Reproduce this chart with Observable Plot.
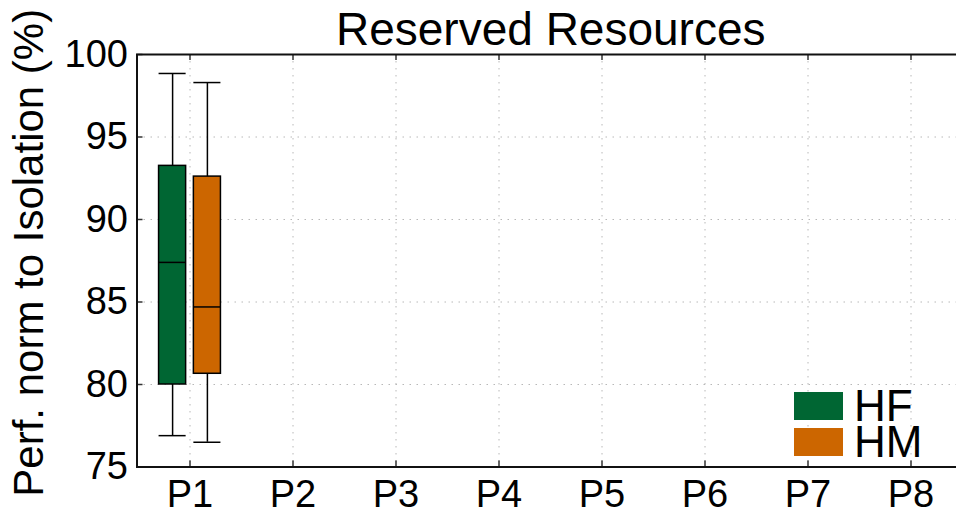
<!DOCTYPE html>
<html>
<head>
<meta charset="utf-8">
<script src="https://cdn.jsdelivr.net/npm/d3@7"></script>
<script src="https://cdn.jsdelivr.net/npm/@observablehq/plot@0.6"></script>
<style>
  body { margin: 0; background: #fff; }
  #chart { position: relative; width: 956px; height: 509px; overflow: hidden;
           font-family: "Liberation Sans", Arial, Helvetica, sans-serif; }
  #chart svg { display: block; }
  .legend { position: absolute; left: 794px; top: 388px; }
  .legend .row { display: flex; align-items: center; height: 36px; }
  .legend .sw { width: 49px; height: 28px; margin-right: 11px; }
  .legend .lab { font-size: 44px; line-height: 36px; color: #000; }
</style>
</head>
<body>
<div id="chart"></div>
<script>
// Programs on the x axis and the two configurations compared
const programs = ["P1", "P2", "P3", "P4", "P5", "P6", "P7", "P8"];
const series = ["HF", "HM"];
const seriesColors = ["#006633", "#cc6600"];

// Box statistics (only P1 has measurements)
const boxProgram = ["P1", "P1"];
const boxSeries = ["HF", "HM"];
const whiskerLow = [76.9, 76.5];
const quartile1 = [80.0, 80.65];
const medianVal = [87.4, 84.7];
const quartile3 = [93.25, 92.6];
const whiskerHigh = [98.85, 98.3];

const yTicks = [75, 80, 85, 90, 95, 100];

const boxes = boxProgram.map((p, i) => ({
  program: p, series: boxSeries[i],
  lo: whiskerLow[i], q1: quartile1[i], med: medianVal[i], q3: quartile3[i], hi: whiskerHigh[i]
}));

// layout
const W = 956, H = 509;
const mL = 136.5, mR = -8, mT = 54, mB = 42.5;
const frameW = W - mL - mR, frameH = H - mT - mB;
const bandW = frameW / programs.length;
const boxW = 27.5, boxGap = 7.3;
const font = "Liberation Sans, Arial, Helvetica, sans-serif";

// per-series box placement inside each program band
const boxMarks = series.flatMap((s, i) => {
  const off = (i - (series.length - 1) / 2) * (boxW + boxGap);
  const insetLeft = bandW / 2 + off - boxW / 2;
  const insetRight = bandW / 2 - off - boxW / 2;
  const d = boxes.filter(b => b.series === s);
  return [
    Plot.ruleX(d, {x: "program", y1: "lo", y2: "hi", dx: off, stroke: "#000", strokeWidth: 1.5}),
    Plot.tickY(d, {x: "program", y: "lo", insetLeft, insetRight, stroke: "#000", strokeWidth: 1.5}),
    Plot.tickY(d, {x: "program", y: "hi", insetLeft, insetRight, stroke: "#000", strokeWidth: 1.5}),
    Plot.barY(d, {x: "program", y1: "q1", y2: "q3", fill: "series", stroke: "#000", strokeWidth: 1.5, insetLeft, insetRight}),
    Plot.tickY(d, {x: "program", y: "med", insetLeft, insetRight, stroke: "#000", strokeWidth: 1.5})
  ];
});

const gridStyle = {stroke: "#b8b8b8", strokeOpacity: 1, strokeWidth: 1, strokeDasharray: "1.5,5.5"};

const chart = Plot.plot({
  width: W, height: H,
  marginLeft: mL, marginRight: mR, marginTop: mT, marginBottom: mB,
  style: {fontFamily: font, background: "#fff", color: "#000"},
  x: {type: "band", domain: programs, padding: 0, label: null},
  y: {domain: [75, 100], label: null},
  color: {domain: series, range: seriesColors},
  marks: [
    Plot.gridY(yTicks.slice(1, -1), gridStyle),
    Plot.gridX(programs, gridStyle),
    ...boxMarks,
    // inward tick marks on the left, bottom and top edges
    Plot.tickY(yTicks, {y: d => d, insetRight: frameW - 6, stroke: "#333", strokeWidth: 1.5}),
    Plot.tickX(programs, {x: d => d, insetTop: frameH - 6, stroke: "#333", strokeWidth: 1.5}),
    Plot.tickX(programs, {x: d => d, insetBottom: frameH - 6, stroke: "#333", strokeWidth: 1.5}),
    Plot.frame({stroke: "#111", strokeWidth: 2}),
    Plot.axisY(yTicks, {tickSize: 0, tickPadding: 9, fontSize: 38, label: null}),
    Plot.axisX({tickSize: 0, tickPadding: 13, fontSize: 38, label: null}),
    Plot.text(["Reserved Resources"], {frameAnchor: "top", lineAnchor: "bottom", dy: -10, fontSize: 46, fill: "#000"}),
    Plot.text(["Perf. norm to Isolation (%)"], {frameAnchor: "left", textAnchor: "middle", rotate: -90, dx: -107, dy: -8, fontSize: 42, fill: "#000"})
  ]
});

const root = document.getElementById("chart");
root.appendChild(chart);

// legend drawn from the color scale
const color = chart.scale("color");
const legend = document.createElement("div");
legend.className = "legend";
color.domain.forEach((s, i) => {
  const row = document.createElement("div");
  row.className = "row";
  const sw = document.createElement("div");
  sw.className = "sw";
  sw.style.background = color.range[i];
  const lab = document.createElement("span");
  lab.className = "lab";
  lab.textContent = s;
  row.appendChild(sw);
  row.appendChild(lab);
  legend.appendChild(row);
});
root.appendChild(legend);
</script>
</body>
</html>
